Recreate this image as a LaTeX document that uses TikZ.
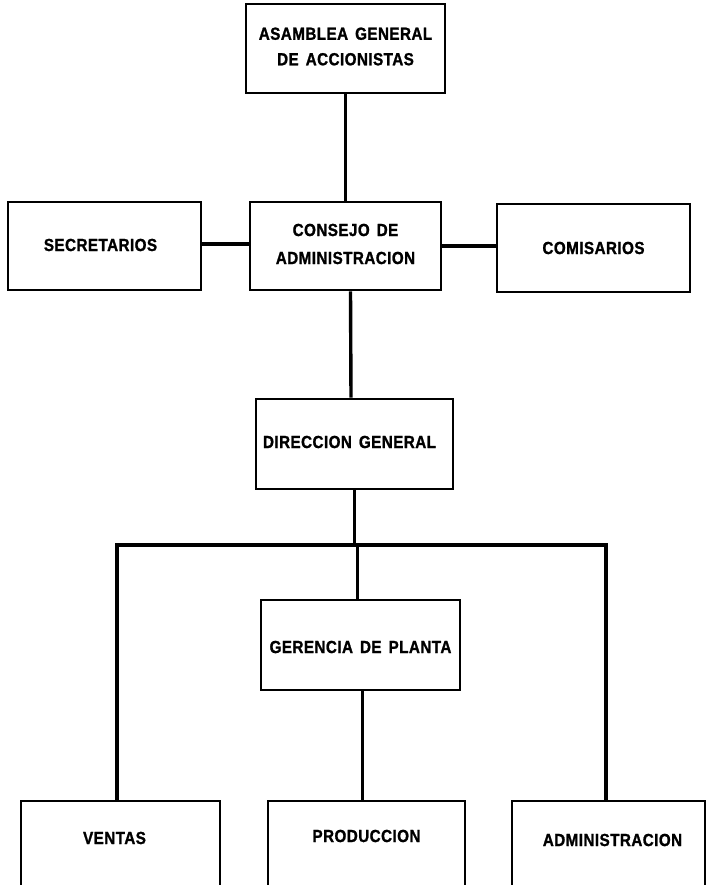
\documentclass[tikz,border=0pt]{standalone}
\usepackage{fontspec}
\setmainfont{Liberation Sans}
\newfontfamily\chartfont[FakeStretch=0.87,FakeBold=1.2,WordSpace=1.5,LetterSpace=2.5]{Liberation Sans Bold}
\begin{document}
\begin{tikzpicture}[x=1pt,y=-1pt,
  box/.style={draw,line width=2.6pt,rectangle,minimum width=#1,minimum height=88pt,inner sep=0pt},
  box/.default=195pt,
  lbl/.style={font=\chartfont\fontsize{17.5}{25.5}\selectfont,align=center,inner sep=0pt},
  link/.style={line width=3.4pt}]
\useasboundingbox (0,0) rectangle (706,885);
\clip (0,0) rectangle (706,885);
\fill[white] (0,0) rectangle (706,885);

% top levels
\node[box=199pt,minimum height=89pt] (asamblea) at (345.5,48.5) {};
\node[lbl] at ([yshift=2pt]asamblea.center) {ASAMBLEA GENERAL\\DE ACCIONISTAS};
\node[box=193pt] (secretarios) at (104.5,246) {};
\node[lbl] at ([xshift=-4pt,yshift=1pt]secretarios.center) {SECRETARIOS};
\node[box=191pt] (consejo) at (345.5,246) {};
\node[lbl] at ([yshift=2pt]consejo.center) {CONSEJO DE\\[2.5pt]ADMINISTRACION};
\node[box=193pt] (comisarios) at (593.5,248) {};
\node[lbl] at (comisarios.center) {COMISARIOS};
\node[box=197pt,minimum height=90pt] (direccion) at (354.5,444) {};
\node[lbl] at ([xshift=-5pt,yshift=2pt]direccion.center) {DIRECCION GENERAL};
\node[box=199pt,minimum height=90pt] (gerencia) at (360.5,645) {};
\node[lbl] at ([yshift=-2pt]gerencia.center) {GERENCIA DE PLANTA};

% bottom row (boxes run past the lower edge)
\node[box=199pt] (ventas) at (120.5,845) {};
\node[lbl] at ([xshift=-6pt,yshift=7pt]ventas.center) {VENTAS};
\node[box=197pt] (produccion) at (366.5,845) {};
\node[lbl] at ([yshift=9pt]produccion.center) {PRODUCCION};
\node[box=193pt] (admin) at (608.5,845) {};
\node[lbl] at ([xshift=4pt,yshift=5pt]admin.center) {ADMINISTRACION};

% connectors
\draw[link] (asamblea.south) -- (consejo.north -| asamblea.south);
\draw[link] (secretarios.east |- 0,244) -- (consejo.west |- 0,244);
\draw[link] (consejo.east |- 0,246) -- (comisarios.west |- 0,246);
\draw[link] ([xshift=5pt]consejo.south) -- ([xshift=-3.5pt]direccion.north);
\coordinate (bl) at (117,545);
\coordinate (br) at (606,545);
\draw[link,line cap=rect] (bl) -- (br);
\draw[link] (bl) -- (bl |- ventas.north);
\draw[link] (br) -- (br |- admin.north);
\draw[link] (direccion.south) -- (direccion.south |- bl);
\draw[link] ([xshift=-3pt]gerencia.north) -- ([xshift=-3pt]gerencia.north |- bl);
\draw[link] ([xshift=2pt]gerencia.south) -- ([xshift=2pt]gerencia.south |- produccion.north);
\end{tikzpicture}
\end{document}
